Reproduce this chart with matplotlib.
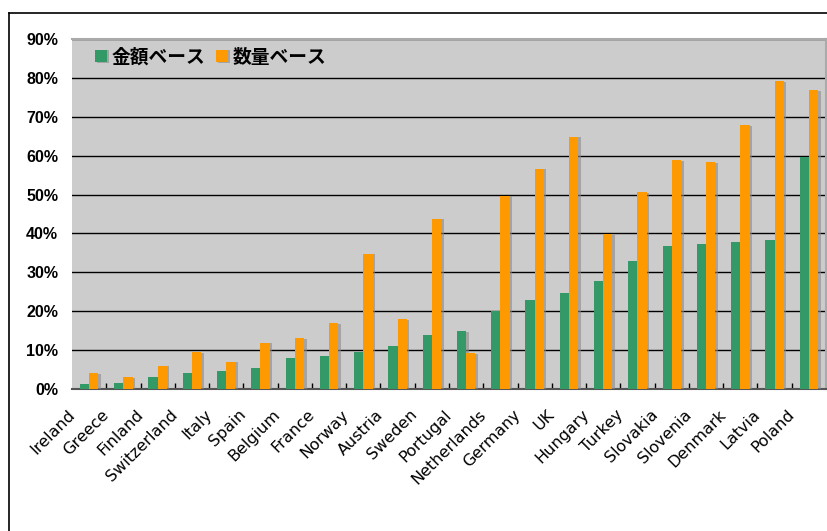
import numpy as np
import matplotlib
matplotlib.use('Agg')
import matplotlib.pyplot as plt
import matplotlib.patheffects as pe
import matplotlib.transforms as mtrans
from matplotlib.lines import Line2D
from matplotlib.ticker import FuncFormatter, FixedLocator

plt.rcParams['font.family'] = ['Noto Sans CJK JP', 'DejaVu Sans']

countries = ['Ireland', 'Greece', 'Finland', 'Switzerland', 'Italy', 'Spain',
             'Belgium', 'France', 'Norway', 'Austria', 'Sweden', 'Portugal',
             'Netherlands', 'Germany', 'UK', 'Hungary', 'Turkey', 'Slovakia',
             'Slovenia', 'Denmark', 'Latvia', 'Poland']
value_base = [1.2, 1.6, 3.0, 4.1, 4.6, 5.5, 8.1, 8.4, 9.4, 11.1, 14.0, 14.8,
              20.0, 23.0, 24.8, 27.8, 32.9, 36.7, 37.3, 37.8, 38.3, 59.7]
volume_base = [4.1, 3.0, 6.0, 9.4, 7.0, 11.9, 13.0, 17.0, 34.8, 17.9, 43.8, 9.3,
               49.7, 56.7, 64.9, 39.9, 50.7, 58.9, 58.4, 67.8, 79.2, 76.8]
series_names = ['金額ベース', '数量ベース']
colors = ['#339966', '#FF9900']

fig = plt.figure(figsize=(8.28, 5.31), dpi=100)

# outer frame (left and top only visible)
fig.add_artist(Line2D([8.5 / 828, 8.5 / 828], [0, 1 - 13 / 531], color='black', lw=1.2,
                      transform=fig.transFigure))
fig.add_artist(Line2D([8.5 / 828, 1], [1 - 13 / 531, 1 - 13 / 531], color='black', lw=1.2,
                      transform=fig.transFigure))

ax = fig.add_axes([72 / 828, 1 - 389 / 531, (826 - 72) / 828, (389 - 39) / 531])
ax.set_facecolor('#CCCCCC')

x = np.arange(len(countries))
w = 0.27
shadow = [pe.SimplePatchShadow(offset=(1.8, -0.5), shadow_rgbFace='#8a8a8a', alpha=0.6), pe.Normal()]
b1 = ax.bar(x - w / 2, value_base, w, color=colors[0], label=series_names[0], zorder=3)
b2 = ax.bar(x + w / 2, volume_base, w, color=colors[1], label=series_names[1], zorder=3)
for b in list(b1) + list(b2):
    b.set_path_effects(shadow)

ax.set_xlim(-0.5, len(countries) - 0.5)
ax.set_ylim(0, 90)
ax.yaxis.set_major_locator(FixedLocator(np.arange(0, 91, 10)))
ax.yaxis.set_major_formatter(FuncFormatter(lambda v, p: '%d%%' % v))
ax.grid(axis='y', color='black', lw=1.0, zorder=1)
ax.tick_params(axis='y', length=0, pad=10)
for t in ax.get_yticklabels():
    t.set_fontfamily(['Liberation Sans', 'DejaVu Sans'])
    t.set_fontweight('bold')
    t.set_fontsize(11.5)

# x ticks: labels at group centres, tick marks between groups
ax.set_xticks(x)
ax.set_xticklabels(countries, rotation=45, ha='right', rotation_mode='anchor',
                   fontsize=11.5, family=['DejaVu Sans'])
ax.tick_params(axis='x', length=0, pad=13)
shift = mtrans.ScaledTranslation(-22 / 100, 0, fig.dpi_scale_trans)
for t in ax.get_xticklabels():
    t.set_transform(t.get_transform() + shift)
ax.set_xticks(np.arange(0.5, len(countries) - 1, 1), minor=True)
ax.tick_params(axis='x', which='minor', direction='in', length=4, width=1, color='black')

for s in ['top', 'right']:
    ax.spines[s].set_color('#aaaaaa')
    ax.spines[s].set_linewidth(1.5)
ax.spines['left'].set_visible(False)
ax.spines['bottom'].set_color('#555555')
ax.spines['bottom'].set_linewidth(1.5)

leg = ax.legend(loc='upper left', bbox_to_anchor=(0.02, 0.997), ncol=2, frameon=False,
                handlelength=0.65, handleheight=0.65, handletextpad=0.25, columnspacing=0.55,
                prop={'family': ['Noto Sans CJK JP'], 'weight': 'bold', 'size': 13.5},
                borderaxespad=0.0)

fig.savefig('out.png', dpi=100)
